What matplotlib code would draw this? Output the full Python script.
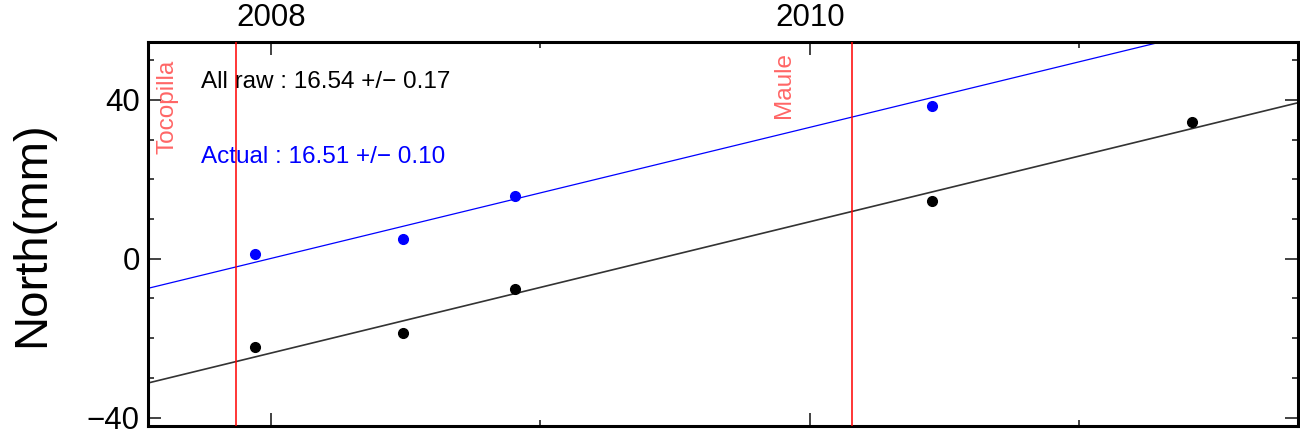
import numpy as np
import matplotlib
matplotlib.use("Agg")
import matplotlib.pyplot as plt
from matplotlib.ticker import MultipleLocator

plt.rcParams['font.family'] = ['Liberation Sans', 'DejaVu Sans']

# epochs (decimal years) and north displacement (mm)
t_obs = [2007.94, 2008.49, 2008.905, 2010.453, 2011.417]
north_raw = [-22.3, -18.7, -7.6, 14.5, 34.4]
t_actual = [2007.94, 2008.49, 2008.905, 2010.453]
north_actual = [1.3, 4.9, 15.8, 38.4]

# linear fits: value at 2008.0 and velocity (mm/yr)
raw_at_2008, raw_vel, raw_err = -23.76, 16.54, 0.17
act_at_2008, act_vel, act_err = 0.07, 16.51, 0.10

quakes = ['Tocopilla', 'Maule']
quake_t = [2007.871, 2010.157]
quake_label_t = [2007.615, 2009.902]
quake_label_y = [50.0, 52.1]

fig = plt.figure(figsize=(13, 4.34), dpi=100)
ax = fig.add_axes([148 / 1300, 1 - 425.5 / 434, 1150 / 1300, 384 / 434])

ax.axline((2008, raw_at_2008), slope=raw_vel, color='#333333', lw=1.2, zorder=2)
ax.axline((2008, act_at_2008), slope=act_vel, color='blue', lw=0.9, zorder=2)
ax.plot(t_obs, north_raw, 'o', color='black', ms=7, zorder=3)
ax.plot(t_actual, north_actual, 'o', color='blue', ms=7, zorder=3)

for name, tq, tl, yl in zip(quakes, quake_t, quake_label_t, quake_label_y):
    ax.axvline(tq, color='red', lw=1.1, zorder=4)
    ax.text(tl, yl, name, rotation=90, ha='center', va='top',
            color='#ff6666', fontsize=17.5)

ax.text(2007.74, 44.6, f'All raw : {raw_vel:.2f} +/\u2212 {raw_err:.2f}',
        color='black', fontsize=17.5, va='center', ha='left', zorder=1)
ax.text(2007.74, 25.5, f'Actual : {act_vel:.2f} +/\u2212 {act_err:.2f}',
        color='blue', fontsize=17.5, va='center', ha='left', zorder=1)

ax.set_xlim(2007.544, 2011.811)
ax.set_ylim(-42.0, 54.7)

ax.xaxis.set_major_locator(MultipleLocator(2))
ax.xaxis.set_minor_locator(MultipleLocator(1))
ax.yaxis.set_major_locator(MultipleLocator(40))
ax.yaxis.set_minor_locator(MultipleLocator(10))
ax.xaxis.tick_top()
ax.tick_params(which='both', direction='in', top=True, bottom=True,
               left=True, right=True, labeltop=True, labelbottom=False,
               labelleft=True, labelright=False, width=1.2, color='#222222')
ax.tick_params(which='major', length=9.5, labelsize=22.5, pad=6)
ax.tick_params(which='minor', length=4.5)

for s in ax.spines.values():
    s.set_linewidth(2.2)

fig.text(32.5 / 1300, 1 - 234.5 / 434, 'North(mm)', rotation=90,
         ha='center', va='center', fontsize=34)

fig.savefig('out.png', dpi=100)
